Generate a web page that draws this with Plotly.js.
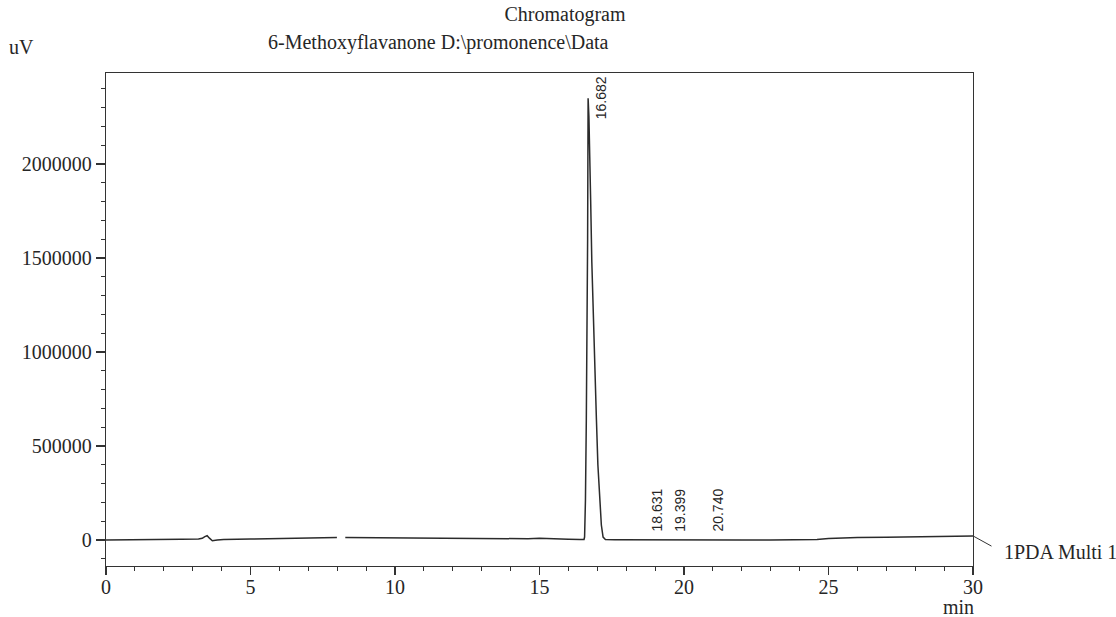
<!DOCTYPE html>
<html>
<head>
<meta charset="utf-8">
<script src="https://cdn.plot.ly/plotly-3.0.1.min.js"></script>
<style>html,body{margin:0;padding:0;background:#fff;}#chart{width:1116px;height:617px;}</style>
</head>
<body>
<div id="chart"></div>
<script>
// Retention time (min) and detector signal (uV); null marks the gap in the trace
const times = [0, 1, 2, 2.6, 3.2, 3.33, 3.42, 3.5, 3.58, 3.68, 3.85, 4.07, 5, 6, 6.72, 7.99, 8.1, 8.28, 9, 10, 11, 12, 13, 14, 14.6, 15, 15.4, 16, 16.4,
  16.54, 16.56, 16.59, 16.62, 16.65, 16.665, 16.675, 16.682, 16.71, 16.74, 16.77, 16.81, 16.86, 16.91, 16.97, 17.02, 17.08, 17.14, 17.2, 17.28,
  17.6, 18, 18.631, 19, 19.399, 20, 20.74, 21, 22, 23, 24, 24.6, 25, 25.5, 26, 27, 28, 29, 30];
const signal = [0, 0, 1000, 4000, 6000, 9000, 18000, 23000, 10000, -4000, 0, 3000, 5000, 8000, 12000, 13000, null, 13000, 12000, 11000, 10000, 8000, 7000, 6000, 7000, 9000, 6000, 4000, 3000,
  3000, 16000, 213000, 640000, 1100000, 1600000, 2050000, 2350000, 2250000, 2080000, 1810000, 1480000, 1170000, 880000, 640000, 400000, 213000, 80000, 16000, 3000,
  2000, 1500, 3000, 1500, 2500, 1000, 1800, 800, 500, 500, 1000, 3000, 8000, 12000, 14000, 15000, 17000, 19000, 22000];

// Peak labels
const peakTimes = [16.682, 18.631, 19.399, 20.740];
const peakLabels = ["16.682", "18.631", "19.399", "20.740"];
const peakHeights = [2350000, 3000, 2500, 1800];

const titleText = "Chromatogram";
const subtitleText = "6-Methoxyflavanone D:\\promonence\\Data";
const yUnit = "uV";
const xUnit = "min";
const traceName = "1PDA Multi 1";

const serif = "Liberation Serif, Times New Roman, serif";
const ink = "#262626";

const trace = {
  x: times, y: signal, type: "scatter", mode: "lines",
  line: {color: "#2b2b2b", width: 1.5},
  connectgaps: false, hoverinfo: "skip", showlegend: false
};

const annotations = [];
peakTimes.forEach((t, i) => {
  annotations.push({
    x: t, y: peakHeights[i], xref: "x", yref: "y",
    text: peakLabels[i], showarrow: false, textangle: -90,
    xanchor: "center", yanchor: i === 0 ? "middle" : "bottom",
    xshift: 13, yshift: i === 0 ? 0 : 6,
    font: {family: "Liberation Sans, Arial, sans-serif", size: 14, color: ink}
  });
});
annotations.push({
  xref: "paper", yref: "paper", x: (438 - 106) / 867, y: (566 - 42) / 493,
  text: subtitleText, showarrow: false, xanchor: "center", yanchor: "middle",
  font: {family: serif, size: 20, color: ink}
});
annotations.push({
  xref: "paper", yref: "paper", x: (21 - 106) / 867, y: (566 - 47) / 493,
  text: yUnit, showarrow: false, xanchor: "center", yanchor: "middle",
  font: {family: serif, size: 20, color: ink}
});
annotations.push({
  xref: "paper", yref: "paper", x: (958 - 106) / 867, y: (566 - 607) / 493,
  text: xUnit, showarrow: false, xanchor: "center", yanchor: "middle",
  font: {family: serif, size: 20, color: ink}
});
annotations.push({
  x: times[times.length - 1], y: signal[signal.length - 1], xref: "x", yref: "y",
  text: traceName, showarrow: true, arrowhead: 0, arrowwidth: 1, arrowcolor: "#333",
  ax: 29, ay: 16, xanchor: "left", yanchor: "middle", startstandoff: 12,
  font: {family: serif, size: 20, color: ink}
});

const layout = {
  width: 1116, height: 617,
  margin: {l: 106, r: 143, t: 73, b: 51},
  paper_bgcolor: "#ffffff", plot_bgcolor: "#ffffff",
  title: {
    text: titleText, xref: "container", yref: "container",
    x: 565 / 1116, y: 1 - 14 / 617, xanchor: "center", yanchor: "middle",
    font: {family: serif, size: 20, color: ink}
  },
  xaxis: {
    range: [0, 30], dtick: 5, tick0: 0,
    showgrid: false, zeroline: false,
    showline: true, mirror: true, linecolor: "#333", linewidth: 1.3,
    ticks: "outside", ticklen: 8, tickwidth: 1.2, tickcolor: "#333",
    ticklabelstandoff: -5,
    minor: {dtick: 1, ticks: "outside", ticklen: 4, tickwidth: 1, tickcolor: "#333"},
    tickfont: {family: serif, size: 20, color: ink}
  },
  yaxis: {
    range: [-138000, 2484000], dtick: 500000, tick0: 0, tickformat: "d",
    showgrid: false, zeroline: false,
    showline: true, mirror: true, linecolor: "#333", linewidth: 1.3,
    ticks: "outside", ticklen: 9, tickwidth: 1.2, tickcolor: "#333",
    minor: {dtick: 100000, ticks: "outside", ticklen: 4, tickwidth: 1, tickcolor: "#333"},
    tickfont: {family: serif, size: 20, color: ink}
  },
  annotations: annotations
};

Plotly.newPlot("chart", [trace], layout, {staticPlot: true, displayModeBar: false});
</script>
</body>
</html>
